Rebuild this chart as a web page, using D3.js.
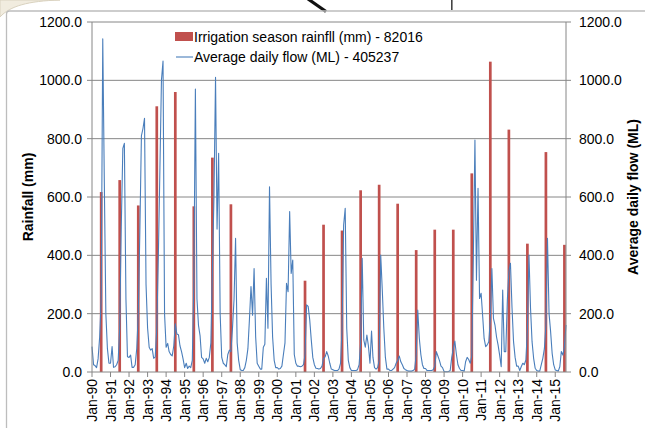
<!DOCTYPE html>
<html><head><meta charset="utf-8">
<script src="https://cdn.jsdelivr.net/npm/d3@7/dist/d3.min.js"></script>
<style>
body{margin:0;background:#fff;}
svg{display:block;font-family:"Liberation Sans",Arial,Helvetica,sans-serif;}
</style>
</head><body>
<svg id="chart" width="645" height="428"></svg>
<script>
// ---------------- DATA ----------------
const startYear = 1990;            // first month of the flow series: Jan-1990
// Average daily flow (ML), monthly, Jan-1990 .. Aug-2015
const flow = [
  /*1990*/ 87, 25, 22, 15, 45, 120, 250, 1142, 650, 200, 80, 30,
  /*1991*/ 30, 87, 16, 18, 25, 40, 150, 500, 767, 784, 250, 52,
  /*1992*/ 50, 58, 16, 16, 25, 80, 200, 480, 810, 834, 870, 300,
  /*1993*/ 150, 85, 75, 80, 47, 52, 150, 400, 700, 1001, 1066, 200,
  /*1994*/ 85, 98, 70, 60, 55, 90, 165, 130, 128, 90, 70, 45,
  /*1995*/ 15, 30, 12, 20, 15, 40, 300, 970, 250, 160, 125, 50,
  /*1996*/ 45, 30, 47, 35, 50, 100, 350, 600, 1010, 490, 750, 200,
  /*1997*/ 50, 30, 25, 18, 60, 75, 70, 150, 250, 458, 100, 40,
  /*1998*/ 8, 5, 5, 15, 40, 80, 180, 293, 195, 355, 120, 30,
  /*1999*/ 20, 10, 10, 85, 95, 321, 150, 635, 300, 120, 40, 15,
  /*2000*/ 15, 10, 12, 20, 60, 100, 304, 275, 550, 338, 384, 60,
  /*2001*/ 30, 20, 20, 18, 20, 25, 60, 230, 225, 180, 110, 50,
  /*2002*/ 25, 13, 12, 10, 12, 20, 47, 52, 70, 55, 30, 10,
  /*2003*/ 8, 5, 5, 5, 10, 30, 150, 504, 561, 150, 40, 15,
  /*2004*/ 5, 5, 5, 5, 8, 25, 100, 390, 110, 85, 127, 90,
  /*2005*/ 30, 140, 50, 15, 10, 15, 40, 401, 280, 150, 50, 10,
  /*2006*/ 10, 5, 5, 10, 15, 30, 40, 55, 35, 25, 12, 8,
  /*2007*/ 5, 3, 3, 3, 5, 10, 60, 212, 115, 60, 25, 12,
  /*2008*/ 12, 5, 5, 5, 5, 8, 20, 70, 55, 40, 20, 15,
  /*2009*/ 2, 1, 1, 2, 5, 50, 80, 106, 60, 25, 12, 5,
  /*2010*/ 5, 3, 35, 50, 43, 30, 55, 400, 795, 315, 630, 252,
  /*2011*/ 270, 190, 115, 87, 93, 104, 178, 355, 184, 161, 120, 93,
  /*2012*/ 58, 18, 281, 70, 70, 247, 344, 373, 220, 104, 50, 20,
  /*2013*/ 20, 5, 18, 30, 25, 41, 144, 401, 218, 104, 47, 13,
  /*2014*/ 5, 3, 3, 25, 47, 80, 160, 458, 200, 140, 64, 25,
  /*2015*/ 7, 5, 3, 18, 70, 58, 87, 161
];
// Irrigation season rainfall (mm), plotted in July of each season's year
const rainYears  = [1990,1991,1992,1993,1994,1995,1996,1997,2001,2002,2003,2004,2005,2006,2007,2008,2009,2010,2011,2012,2013,2014,2015];
const rainValues = [617, 658, 571, 911, 960, 568, 735, 575, 313, 505, 485, 623, 642, 577, 418, 488, 488, 681, 1064, 831, 440, 754, 436];
const yTicks = [0, 200, 400, 600, 800, 1000, 1200];
const tickYears = d3.range(1990, 2016);
const seriesNames = ["Irrigation season rainfll (mm) - 82016", "Average daily flow (ML) - 405237"];
const axisTitles = ["Rainfall (mm)", "Average daily flow (ML)"];

// ---------------- CHART ----------------
const svg = d3.select("#chart");
const P = {l: 92, r: 566, t: 22, b: 372};
const months = flow.map((_, i) => new Date(startYear, i, 1));
const x = d3.scaleTime().domain([months[0], months[months.length - 1]]).range([P.l, P.r]);
const yL = d3.scaleLinear().domain([0, 1200]).range([P.b, P.t]);
const yR = d3.scaleLinear().domain([0, 1200]).range([P.b, P.t]);
const fmt = d3.format(".1f");
const monthFmt = d3.timeFormat("%b-%y");

// page decorations outside the chart (from the source document)
svg.append("path").attr("d", "M0,17 C10,6 28,1 60,0 L0,0 Z").attr("fill", "#f1ecdf").attr("stroke", "#d9d2bf").attr("stroke-width", 1);
svg.append("line").attr("x1", 308).attr("y1", -1).attr("x2", 326).attr("y2", 11.5).attr("stroke", "#111").attr("stroke-width", 3.2);
svg.append("line").attr("x1", 451.8).attr("y1", 0).attr("x2", 451.8).attr("y2", 10).attr("stroke", "#444").attr("stroke-width", 1.6);

// chart area border
svg.append("path").attr("d", "M6.5,430 L6.5,14 Q6.5,11 9.5,11 L650,11").attr("fill", "none").attr("stroke", "#bdbdbd").attr("stroke-width", 1.3);

// gridlines
svg.append("g").selectAll("line").data(yTicks.filter(d => d > 0)).join("line")
  .attr("x1", P.l).attr("x2", P.r).attr("y1", d => yL(d)).attr("y2", d => yL(d))
  .attr("stroke", "#868686").attr("stroke-width", 1);

// bars (left axis)
const barW = 2.7;
svg.append("g").selectAll("rect").data(rainYears).join("rect")
  .attr("x", (d) => x(new Date(d, 6, 1)) - barW / 2)
  .attr("y", (d, i) => yL(rainValues[i]))
  .attr("width", barW)
  .attr("height", (d, i) => yL(0) - yL(rainValues[i]))
  .attr("fill", "#c0504d");

// flow line (right axis)
svg.append("path").datum(flow)
  .attr("d", d3.line().x((d, i) => x(months[i])).y(d => yR(d)))
  .attr("fill", "none").attr("stroke", "#4a7ebb").attr("stroke-width", 1.1).attr("stroke-linejoin", "round");

// axes lines
const axisCol = "#868686";
svg.append("line").attr("x1", P.l).attr("x2", P.l).attr("y1", P.t).attr("y2", P.b).attr("stroke", axisCol);
svg.append("line").attr("x1", P.r).attr("x2", P.r).attr("y1", P.t).attr("y2", P.b).attr("stroke", axisCol);
svg.append("line").attr("x1", P.l).attr("x2", P.r).attr("y1", P.b).attr("y2", P.b).attr("stroke", axisCol);

// left ticks + labels
const gl = svg.append("g");
gl.selectAll("line").data(yTicks).join("line")
  .attr("x1", P.l - 5).attr("x2", P.l).attr("y1", d => yL(d)).attr("y2", d => yL(d)).attr("stroke", axisCol);
gl.selectAll("text").data(yTicks).join("text")
  .attr("x", 82).attr("y", d => yL(d) + 5).attr("text-anchor", "end")
  .attr("font-size", 14).attr("fill", "#000").text(d => fmt(d));

// right ticks + labels
const gr = svg.append("g");
gr.selectAll("line").data(yTicks).join("line")
  .attr("x1", P.r).attr("x2", P.r + 5).attr("y1", d => yR(d)).attr("y2", d => yR(d)).attr("stroke", axisCol);
gr.selectAll("text").data(yTicks).join("text")
  .attr("x", 579).attr("y", d => yR(d) + 5).attr("text-anchor", "start")
  .attr("font-size", 14).attr("fill", "#000").text(d => fmt(d));

// bottom ticks + labels
const gx = svg.append("g");
const tickDates = tickYears.map(y => new Date(y, 0, 1));
gx.selectAll("line").data(tickDates).join("line")
  .attr("x1", d => x(d)).attr("x2", d => x(d)).attr("y1", P.b).attr("y2", P.b + 5).attr("stroke", axisCol);
gx.selectAll("text").data(tickDates).join("text")
  .attr("transform", d => `translate(${x(d) + 5},${P.b + 7}) rotate(-90)`)
  .attr("text-anchor", "end").attr("font-size", 14).attr("fill", "#000")
  .text(d => monthFmt(d));

// axis titles
svg.append("text").attr("transform", `translate(33,${(P.t + P.b) / 2}) rotate(-90)`)
  .attr("text-anchor", "middle").attr("font-size", 14).attr("font-weight", "bold").text(axisTitles[0]);
svg.append("text").attr("transform", `translate(638,${(P.t + P.b) / 2}) rotate(-90)`)
  .attr("text-anchor", "middle").attr("font-size", 14).attr("font-weight", "bold").text(axisTitles[1]);

// legend
const lg = svg.append("g");
lg.append("rect").attr("x", 175).attr("y", 32).attr("width", 18).attr("height", 9).attr("fill", "#c0504d");
lg.append("text").attr("x", 194).attr("y", 42).attr("font-size", 14).text(seriesNames[0]);
lg.append("line").attr("x1", 176).attr("x2", 193).attr("y1", 57).attr("y2", 57).attr("stroke", "#4a7ebb").attr("stroke-width", 1.1);
lg.append("text").attr("x", 194).attr("y", 62).attr("font-size", 14).text(seriesNames[1]);
</script>
</body></html>
